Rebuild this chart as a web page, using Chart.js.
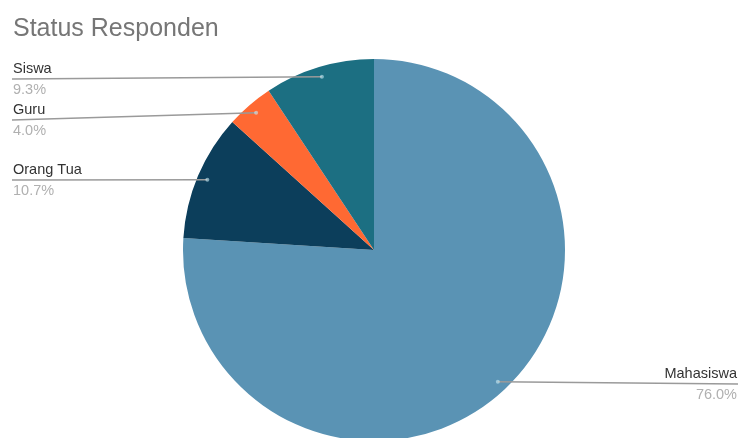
<!DOCTYPE html>
<html>
<head>
<meta charset="utf-8">
<script src="https://cdn.jsdelivr.net/npm/chart.js@4/dist/chart.umd.min.js"></script>
<style>
  html, body { margin: 0; padding: 0; background: #fff; }
  #wrap { position: relative; width: 739px; height: 438px; }
</style>
</head>
<body>
<div id="wrap"><canvas id="c" width="739" height="438"></canvas></div>
<script>
const title = "Status Responden";
const categories = ["Mahasiswa", "Orang Tua", "Guru", "Siswa"];
const values = [76.0, 10.7, 4.0, 9.3];
const percentLabels = ["76.0%", "10.7%", "4.0%", "9.3%"];
const colors = ["#5a93b4", "#0c3e5b", "#ff6933", "#1c6f82"];

// label layout: side and y of leader line
const labelLayout = [
  { side: "right", y: 384 },
  { side: "left", y: 180 },
  { side: "left", y: 120 },
  { side: "left", y: 79 }
];

const FONT = "'Liberation Sans', Arial, sans-serif";

const labelPlugin = {
  id: "pieLabels",
  afterDatasetsDraw(chart) {
    const ctx = chart.ctx;
    const meta = chart.getDatasetMeta(0);
    const W = chart.width;
    ctx.save();
    // title
    ctx.fillStyle = "#767676";
    ctx.font = "25px " + FONT;
    ctx.textBaseline = "middle";
    ctx.textAlign = "left";
    ctx.fillText(title, 13, 29);

    meta.data.forEach((arc, i) => {
      const p = arc.getProps(["x", "y", "startAngle", "endAngle", "outerRadius"], true);
      const mid = (p.startAngle + p.endAngle) / 2;
      const r = p.outerRadius * 0.947;
      const dx = p.x + Math.cos(mid) * r;
      const dy = p.y + Math.sin(mid) * r;
      const L = labelLayout[i];
      const tx = L.side === "left" ? 12 : W - 1;
      // leader line
      ctx.strokeStyle = "#9a9a9a";
      ctx.lineWidth = 1.5;
      ctx.beginPath();
      ctx.moveTo(tx, L.y);
      ctx.lineTo(dx, dy);
      ctx.stroke();
      // dot
      ctx.fillStyle = "rgba(200,235,245,0.6)";
      ctx.beginPath();
      ctx.arc(dx, dy, 2, 0, Math.PI * 2);
      ctx.fill();
      // text
      ctx.textAlign = L.side === "left" ? "left" : "right";
      ctx.textBaseline = "middle";
      ctx.font = "14.5px " + FONT;
      ctx.fillStyle = "#333333";
      ctx.fillText(categories[i], L.side === "left" ? 13 : W - 2, L.y - 10);
      ctx.fillStyle = "#b0b0b0";
      ctx.fillText(percentLabels[i], L.side === "left" ? 13 : W - 2, L.y + 11);
    });
    ctx.restore();
  }
};

new Chart(document.getElementById("c"), {
  type: "pie",
  data: {
    labels: categories,
    datasets: [{
      data: values,
      backgroundColor: colors,
      borderWidth: 0
    }]
  },
  options: {
    responsive: false,
    animation: false,
    radius: 191,
    layout: { padding: { top: 62, left: 9, right: 0, bottom: 0 } },
    plugins: {
      legend: { display: false },
      tooltip: { enabled: false },
      title: { display: false }
    }
  },
  plugins: [labelPlugin]
});
</script>
</body>
</html>
